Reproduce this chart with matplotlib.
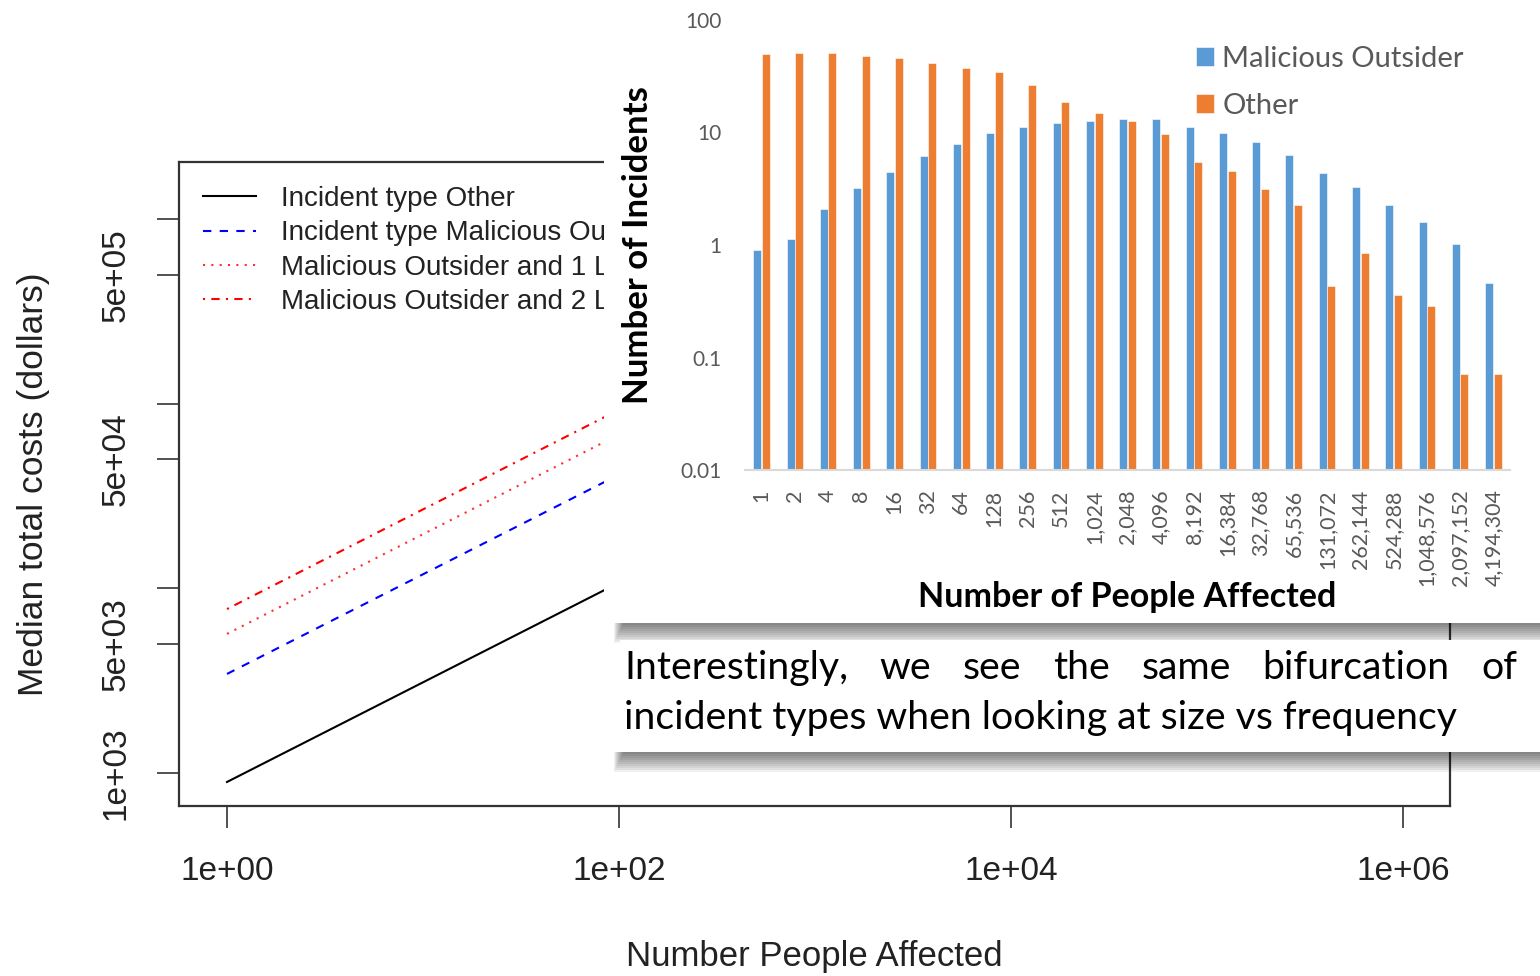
import matplotlib.pyplot as plt
from matplotlib.patches import Rectangle

W, H = 1540, 976

# --- median total cost fits (R style plot in the back) ---
cost_x = [1, 1e6]
cost_other = [894, 1.55e6]
cost_mal = [3440, 5.97e6]
cost_mal1 = [5670, 9.85e6]
cost_mal2 = [7730, 1.34e7]
cost_labels = [
    "Incident type Other",
    "Incident type Malicious Outsider",
    "Malicious Outsider and 1 Lawsuit",
    "Malicious Outsider and 2 Lawsuits",
]

# --- incident counts by number of people affected ---
people_labels = ["1", "2", "4", "8", "16", "32", "64", "128", "256", "512",
                 "1,024", "2,048", "4,096", "8,192", "16,384", "32,768",
                 "65,536", "131,072", "262,144", "524,288", "1,048,576",
                 "2,097,152", "4,194,304"]
malicious = [0.90, 1.13, 2.07, 3.19, 4.43, 6.18, 7.85, 9.9, 11.3, 12.2, 12.7,
             13.1, 13.1, 11.1, 9.95, 8.24, 6.31, 4.37, 3.28, 2.27, 1.60, 1.02,
             0.46]
other = [49.9, 50.9, 51.2, 48.2, 45.6, 41.5, 37.7, 34.3, 26.4, 18.7, 14.8,
         12.7, 9.77, 5.43, 4.57, 3.15, 2.28, 0.433, 0.855, 0.359, 0.287,
         0.0713, 0.0713]

note_line1 = "Interestingly, we see the same bifurcation of"
note_line2 = "incident types when looking at size vs frequency"


def fx(px):
    return px / W


def fy(py):
    return 1 - py / H


fig = plt.figure(figsize=(W / 100, H / 100), dpi=100)
fig.patch.set_facecolor("white")

# ---------------- back plot ----------------
r_font = "Liberation Sans"
ax1 = fig.add_axes([fx(179), fy(806), (1450 - 179) / W, (806 - 162) / H])
ax1.set_zorder(1)
ax1.set_xscale("log")
ax1.set_yscale("log")
ax1.plot(cost_x, cost_other, color="black", lw=1.5, ls="-", label=cost_labels[0])
ax1.plot(cost_x, cost_mal, color="blue", lw=1.5, ls=(0, (4, 4)), label=cost_labels[1])
ax1.plot(cost_x, cost_mal1, color="#ff3030", lw=1.5, ls=(0, (1, 3)), label=cost_labels[2])
ax1.plot(cost_x, cost_mal2, color="red", lw=1.5, ls=(0, (1, 3, 4, 3)), label=cost_labels[3])
ax1.set_xlim(10 ** -0.2449, 10 ** 6.2398)
ax1.set_ylim(10 ** 2.8212, 10 ** 6.3099)
ax1.minorticks_off()
ax1.set_xticks([1, 1e2, 1e4, 1e6])
ax1.set_xticklabels(["1e+00", "1e+02", "1e+04", "1e+06"], fontfamily=r_font)
ax1.set_yticks([1e3, 5e3, 1e4, 5e4, 1e5, 5e5, 1e6])
ax1.set_yticklabels(["1e+03", "5e+03", "", "5e+04", "", "5e+05", ""],
                    rotation=90, va="center", fontfamily=r_font)
ax1.tick_params(axis="both", which="major", length=16, width=1.2,
                direction="out", labelsize=24, color="#333333",
                labelcolor="#222222")
ax1.tick_params(axis="x", pad=20)
ax1.tick_params(axis="y", pad=18)
for s in ax1.spines.values():
    s.set_linewidth(1.6)
    s.set_color("#333333")
ax1.set_xlabel("Number People Affected", fontsize=25, fontfamily=r_font,
               color="#222222")
ax1.xaxis.set_label_coords(0.5, -(940 - 806) / 644)
ax1.set_ylabel("Median total costs (dollars)", fontsize=25.5, fontfamily=r_font,
               color="#222222")
ax1.yaxis.set_label_coords((50 - 179) / 1271, 0.5)
ax1.legend(loc="upper left", bbox_to_anchor=(fx(203), fy(186)),
           bbox_transform=fig.transFigure, frameon=False,
           prop={"family": r_font, "size": 20}, handlelength=1.9,
           handletextpad=0.9, labelspacing=0.3, borderpad=0,
           borderaxespad=0, labelcolor="#222222")

# ---------------- slide panels on top ----------------
ov = fig.add_axes([0, 0, 1, 1])
ov.set_zorder(2)
ov.set_xlim(0, W)
ov.set_ylim(H, 0)
ov.axis("off")


def shadow(x0, x1, y0, y1, layers=10, alpha=0.06):
    # soft drop shadow: stacked translucent rects that shrink toward the edges
    step = (y1 - y0) / layers
    for i in range(layers):
        ov.add_patch(Rectangle((x0 + i * 1.0, y0), x1 - x0, (y1 - y0) - i * step,
                               facecolor="black", edgecolor="none", alpha=alpha))


ov.add_patch(Rectangle((604, 0), W - 604, 623, facecolor="white", edgecolor="none"))
shadow(614, W + 20, 623, 643)
ov.add_patch(Rectangle((620, 640), W - 620, 112, facecolor="white", edgecolor="none"))
shadow(614, W + 20, 752, 772)

# justified first line, ragged second line
words = note_line1.split()
word_texts = [ov.text(0, 679, w, fontsize=28.3, fontfamily="Lato", color="black",
                      va="baseline", ha="left") for w in words]
renderer = fig.canvas.get_renderer()
widths = [t.get_window_extent(renderer).width for t in word_texts]
left, right = 624, 1517
gap = (right - left - sum(widths)) / (len(words) - 1)
xpos = left
for t, wd in zip(word_texts, widths):
    t.set_x(xpos)
    xpos += wd + gap
ov.text(624, 729, note_line2, fontsize=28.3, fontfamily="Lato", color="black",
        va="baseline", ha="left")

# ---------------- bar chart ----------------
ax2 = fig.add_axes([fx(745), fy(470), (1510 - 745) / W, (470 - 20) / H])
ax2.set_zorder(3)
ax2.patch.set_alpha(0)
ax2.set_yscale("log")
idx = list(range(len(people_labels)))
b1 = ax2.bar([i - 0.13 for i in idx], malicious, width=0.24, color="#5B9BD5",
             edgecolor="white", linewidth=0.4, label="Malicious Outsider")
b2 = ax2.bar([i + 0.13 for i in idx], other, width=0.24, color="#ED7D31",
             edgecolor="white", linewidth=0.4, label="Other")
ax2.set_ylim(0.01, 100)
ax2.set_xlim(-0.5, len(people_labels) - 0.5)
ax2.minorticks_off()
ax2.set_yticks([0.01, 0.1, 1, 10, 100])
ax2.set_yticklabels(["0.01", "0.1", "1", "10", "100"], fontfamily="Lato")
ax2.set_xticks(idx)
ax2.set_xticklabels(people_labels, rotation=90, fontfamily="Lato")
ax2.tick_params(axis="both", length=0, labelcolor="#595959")
ax2.tick_params(axis="y", labelsize=15, pad=17)
ax2.tick_params(axis="x", labelsize=15.5, pad=14)
for side in ("top", "right", "left"):
    ax2.spines[side].set_visible(False)
ax2.spines["bottom"].set_color("#D9D9D9")
ax2.spines["bottom"].set_linewidth(1.5)
ax2.legend(loc="upper left", bbox_to_anchor=(fx(1196), fy(46)),
           bbox_transform=fig.transFigure, frameon=False,
           prop={"family": "Lato", "size": 21}, handlelength=0.6,
           handleheight=0.6, handletextpad=0.3, labelspacing=0.72,
           borderpad=0, borderaxespad=0, labelcolor="#595959")

fig.text(fx(638), fy(245), "Number of Incidents", rotation=90, ha="center",
         va="center", fontsize=25, fontweight="bold", fontfamily="Lato",
         color="black", zorder=10)
fig.text(fx(1127), fy(597), "Number of People Affected", ha="center",
         va="center", fontsize=24.5, fontweight="bold", fontfamily="Lato",
         color="black", zorder=10)

fig.savefig("out.png", dpi=100)
